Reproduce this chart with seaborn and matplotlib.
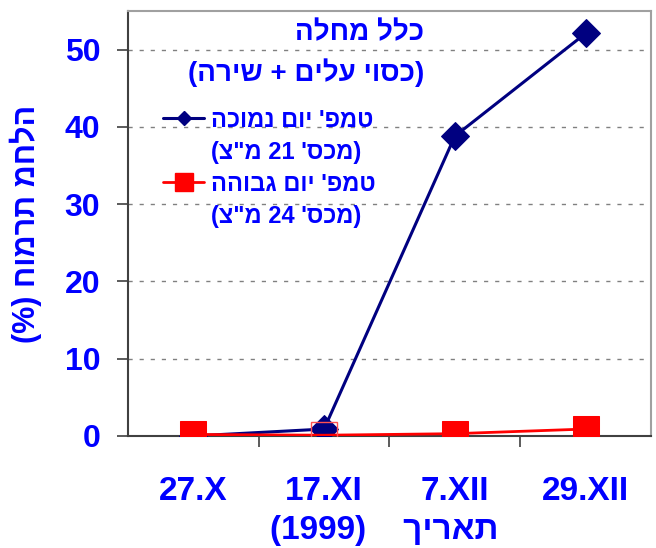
import re
import matplotlib
matplotlib.use('Agg')
import matplotlib.pyplot as plt
from matplotlib.lines import Line2D
import pandas as pd
import seaborn as sns

dates = ['27.X', '17.XI', '7.XII', '29.XII']
low_temp = [0.0, 0.9, 38.8, 52.1]
high_temp = [0.2, 0.1, 0.3, 0.9]
yticks = [0, 10, 20, 30, 40, 50]

title_1 = 'כלל מחלה'
title_2 = '(כסוי עלים + שירה)'
low_label = ["טמפ' יום נמוכה", '(מכס\' 21 מ"צ)']
high_label = ["טמפ' יום גבוהה", '(מכס\' 24 מ"צ)']
y_label = 'חומרת מחלה (%)'
x_label = '(1999)    תאריך'

BLUE_TXT = '#0000ff'
NAVY = '#000080'
RED = '#ff0000'


def ltr(s):
    # the renderer flips Hebrew runs; pre-flip them so the text shows
    # left-to-right like in the original picture
    def flip(m):
        t = m.group(0)[::-1]
        return re.sub(r'\d+', lambda d: d.group(0)[::-1], t)
    return re.sub(r'[\u05d0-\u05ea][^()]*[\u05d0-\u05ea]|[\u05d0-\u05ea]', flip, s)


def rtl(s):
    # the y label is shown right-to-left in the original
    swap = {'(': ')', ')': '('}
    return ltr(''.join(swap.get(c, c) for c in s[::-1]))


sns.set_theme(style='white')
plt.rcParams['font.family'] = ['Liberation Sans', 'DejaVu Sans']
plt.rcParams['font.weight'] = 'bold'

df_low = pd.DataFrame({'date': dates, 'value': low_temp})
df_high = pd.DataFrame({'date': dates, 'value': high_temp})

fig, ax = plt.subplots(figsize=(6.56, 5.48), dpi=100)
fig.subplots_adjust(left=0.195, right=0.9924, top=0.98, bottom=0.2044)

sns.lineplot(data=df_low, x='date', y='value', sort=False, ax=ax,
             color=NAVY, lw=2.2, marker='D', ms=14, mec=NAVY, mfc=NAVY, zorder=3)
sns.lineplot(data=df_high, x='date', y='value', sort=False, ax=ax,
             color=RED, lw=2, marker='s', ms=19, mec=RED, mfc=RED,
             markevery=[0, 2, 3], zorder=4)
# hollow marker at the second date
ax.plot(df_high['date'][1:2], df_high['value'][1:2], ls='none', marker='s', ms=19,
        mfc='none', mec='#ff5050', mew=1, zorder=5)

ax.set_xlim(-0.5, 3.5)
ax.set_ylim(0, 55)
ax.set_yticks(yticks)
ax.set_xticks(range(len(dates)))
ax.set_xticklabels(dates)
ax.set_xticks([0.5, 1.5, 2.5], minor=True)
ax.tick_params(axis='x', which='major', length=0, pad=29, labelsize=24, labelcolor=BLUE_TXT)
ax.tick_params(axis='x', which='minor', length=8, width=1.2, color='#404040', direction='out', bottom=True)
ax.tick_params(axis='y', length=8, width=1.2, color='#404040', direction='out', left=True,
               pad=12, labelsize=23, labelcolor=BLUE_TXT)

ax.yaxis.grid(True, ls=(0, (3, 5)), color='#808080', lw=1)
ax.xaxis.grid(False)
ax.set_axisbelow(True)

for side in ['left', 'bottom']:
    ax.spines[side].set_color('#404040')
    ax.spines[side].set_linewidth(1.5)
for side in ['top', 'right']:
    ax.spines[side].set_color('#a0a0a0')
    ax.spines[side].set_linewidth(1.5)

ax.set_ylabel(rtl(y_label), fontsize=22, color=BLUE_TXT, fontweight='bold')
ax.yaxis.set_label_coords(-0.165, 0.5)
ax.set_xlabel(ltr(x_label), fontsize=24, color=BLUE_TXT, fontweight='bold', va='top')
ax.xaxis.set_label_coords(0.49, -0.186)

ax.text(0.566, 0.948, ltr(title_1), transform=ax.transAxes, ha='right', va='center',
        fontsize=20, color=BLUE_TXT, fontweight='bold')
ax.text(0.566, 0.856, ltr(title_2), transform=ax.transAxes, ha='right', va='center',
        fontsize=20, color=BLUE_TXT, fontweight='bold')

handles = [Line2D([], [], color=NAVY, lw=2.2, marker='D', ms=7.6),
           Line2D([], [], ls='none'),
           Line2D([], [], color=RED, lw=2, marker='s', ms=13),
           Line2D([], [], ls='none')]
labels = [ltr(low_label[0]), ltr(low_label[1]), ltr(high_label[0]), ltr(high_label[1])]
ax.legend(handles, labels, loc='upper left', bbox_to_anchor=(0.067, 0.77),
          frameon=False, handlelength=1.75, handletextpad=0.3, labelspacing=0.38,
          borderpad=0, borderaxespad=0, labelcolor=BLUE_TXT,
          prop={'size': 17, 'weight': 'bold'})

fig.savefig('out.png', dpi=100)
